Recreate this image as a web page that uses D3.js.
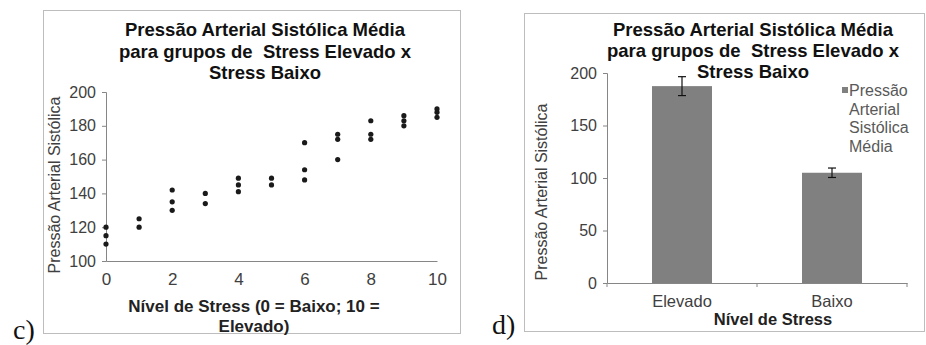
<!DOCTYPE html>
<html>
<head>
<meta charset="utf-8">
<script src="https://cdn.jsdelivr.net/npm/d3@7"></script>
<style>
  body { margin: 0; background: #fff; }
  svg { display: block; font-family: "Liberation Sans", Arial, sans-serif; }
  .tick text { fill: #404040; }
  text.title { white-space: pre; }
</style>
</head>
<body>
<div id="chart"></div>
<script>
// scatter data (panel c)
var stressLevels = [0, 0, 0, 1, 1, 2, 2, 2, 3, 3, 4, 4, 4, 5, 5, 6, 6, 6, 7, 7, 7, 8, 8, 8, 9, 9, 9, 10, 10, 10];
var pressures = [120, 115, 110, 125, 120, 142, 135, 130, 140, 134, 149, 145, 141, 149, 145, 170, 154, 148, 175, 172, 160, 183, 175, 172, 186, 183, 180, 190, 188, 185];
var scatterTicksY = [100, 120, 140, 160, 180, 200];
var scatterTicksX = [0, 2, 4, 6, 8, 10];

// bar data (panel d)
var groups = ["Elevado", "Baixo"];
var meanPressure = [187.5, 105];
var errorMargin = [9, 4.5];
var barTicksY = [0, 50, 100, 150, 200];

var titleLines = ["Pressão Arterial Sistólica Média", "para grupos de  Stress Elevado x", "Stress Baixo"];
var legendLines = ["Pressão", "Arterial", "Sistólica", "Média"];

var svg = d3.select("#chart").append("svg")
    .attr("width", 926)
    .attr("height", 345);

var axisColour = "#868686";

// ---------- panel c: scatter ----------
svg.append("rect")
    .attr("x", 43.5).attr("y", 10.5)
    .attr("width", 417).attr("height", 323)
    .attr("fill", "none").attr("stroke", "#bdbdbd");

var x = d3.scaleLinear().domain([0, 10]).range([106, 437]);
var y = d3.scaleLinear().domain([100, 200]).range([261, 92]);

var gC = svg.append("g");

gC.append("g")
    .attr("transform", "translate(0," + y(100) + ")")
    .call(d3.axisBottom(x).tickValues(scatterTicksX).tickSize(0).tickPadding(12))
    .call(function(g) {
        g.select(".domain").attr("stroke", axisColour);
        g.selectAll("text").attr("font-size", 17).attr("font-family", "Liberation Sans, Arial");
    });

gC.append("g")
    .attr("transform", "translate(" + x(0) + ",0)")
    .call(d3.axisLeft(y).tickValues(scatterTicksY).tickSize(4).tickPadding(6))
    .call(function(g) {
        g.select(".domain").attr("stroke", axisColour);
        g.selectAll(".tick line").attr("stroke", axisColour);
        g.selectAll("text").attr("font-size", 16).attr("font-family", "Liberation Sans, Arial");
    });

gC.selectAll("circle.dot")
    .data(stressLevels.map(function(s, i) { return {s: s, p: pressures[i]}; }))
    .enter()
    .append("circle")
    .attr("class", "dot")
    .attr("cx", function(d) { return x(d.s); })
    .attr("cy", function(d) { return y(d.p); })
    .attr("r", 2.6)
    .attr("fill", "#1a1a1a");

// titles keep the double space of the original
gC.selectAll("text.title")
    .data(titleLines)
    .enter()
    .append("text")
    .attr("class", "title")
    .attr("x", 265)
    .attr("y", function(d, i) { return 36 + i * 21.5; })
    .attr("text-anchor", "middle")
    .attr("font-size", 18.5)
    .attr("font-weight", "bold")
    .attr("fill", "#111")
    .text(function(d) { return d; });

gC.append("text")
    .attr("transform", "translate(60,185) rotate(-90)")
    .attr("text-anchor", "middle")
    .attr("font-size", 16)
    .attr("fill", "#404040")
    .text("Pressão Arterial Sistólica");

gC.selectAll("text.xtitle")
    .data(["Nível de Stress (0 = Baixo; 10 =", "Elevado)"])
    .enter()
    .append("text")
    .attr("class", "xtitle")
    .attr("x", 254)
    .attr("y", function(d, i) { return 312 + i * 19.5; })
    .attr("text-anchor", "middle")
    .attr("font-size", 17)
    .attr("font-weight", "bold")
    .attr("fill", "#222")
    .text(function(d) { return d; });

svg.append("text")
    .attr("x", 13).attr("y", 339)
    .attr("font-family", "Liberation Serif, Times New Roman, serif")
    .attr("font-size", 28)
    .attr("fill", "#111")
    .text("c)");

// ---------- panel d: bars ----------
svg.append("rect")
    .attr("x", 524.5).attr("y", 13.5)
    .attr("width", 400).attr("height", 318)
    .attr("fill", "none").attr("stroke", "#bdbdbd");

var xb = d3.scaleBand().domain(groups).range([607, 907]);
var yb = d3.scaleLinear().domain([0, 200]).range([283, 73]);
var barW = xb.bandwidth() * 0.4;

var gD = svg.append("g");

gD.append("g")
    .attr("transform", "translate(0," + yb(0) + ")")
    .call(d3.axisBottom(xb).tickSize(0).tickPadding(12))
    .call(function(g) {
        g.select(".domain").attr("stroke", axisColour);
        g.selectAll("text").attr("font-size", 16.5).attr("font-family", "Liberation Sans, Arial");
    });

// category separators on the x axis
gD.selectAll("line.sep")
    .data([xb.range()[0], xb(groups[1]), xb.range()[1]])
    .enter()
    .append("line")
    .attr("class", "sep")
    .attr("x1", function(d) { return d; })
    .attr("x2", function(d) { return d; })
    .attr("y1", yb(0)).attr("y2", yb(0) + 4)
    .attr("stroke", axisColour);

gD.append("g")
    .attr("transform", "translate(" + xb.range()[0] + ",0)")
    .call(d3.axisLeft(yb).tickValues(barTicksY).tickSize(4).tickPadding(6))
    .call(function(g) {
        g.select(".domain").attr("stroke", axisColour);
        g.selectAll(".tick line").attr("stroke", axisColour);
        g.selectAll("text").attr("font-size", 16).attr("font-family", "Liberation Sans, Arial");
    });

var barData = groups.map(function(g, i) { return {g: g, v: meanPressure[i], e: errorMargin[i]}; });

gD.selectAll("rect.bar")
    .data(barData)
    .enter()
    .append("rect")
    .attr("class", "bar")
    .attr("x", function(d) { return xb(d.g) + xb.bandwidth() / 2 - barW / 2; })
    .attr("y", function(d) { return yb(d.v); })
    .attr("width", barW)
    .attr("height", function(d) { return yb(0) - yb(d.v); })
    .attr("fill", "#808080");

var err = gD.selectAll("g.err")
    .data(barData)
    .enter()
    .append("g")
    .attr("class", "err")
    .attr("stroke", "#111")
    .attr("stroke-width", 1.2);

err.append("line")
    .attr("x1", function(d) { return xb(d.g) + xb.bandwidth() / 2; })
    .attr("x2", function(d) { return xb(d.g) + xb.bandwidth() / 2; })
    .attr("y1", function(d) { return yb(d.v + d.e); })
    .attr("y2", function(d) { return yb(d.v - d.e); });

err.selectAll("line.cap")
    .data(function(d) { return [d.v + d.e, d.v - d.e].map(function(v) { return {g: d.g, v: v}; }); })
    .enter()
    .append("line")
    .attr("class", "cap")
    .attr("x1", function(d) { return xb(d.g) + xb.bandwidth() / 2 - 4; })
    .attr("x2", function(d) { return xb(d.g) + xb.bandwidth() / 2 + 4; })
    .attr("y1", function(d) { return yb(d.v); })
    .attr("y2", function(d) { return yb(d.v); });

gD.selectAll("text.title")
    .data(titleLines)
    .enter()
    .append("text")
    .attr("class", "title")
    .attr("x", 753)
    .attr("y", function(d, i) { return 36 + i * 21; })
    .attr("text-anchor", "middle")
    .attr("font-size", 18.5)
    .attr("font-weight", "bold")
    .attr("fill", "#111")
    .text(function(d) { return d; });

gD.append("text")
    .attr("transform", "translate(547,192) rotate(-90)")
    .attr("text-anchor", "middle")
    .attr("font-size", 16)
    .attr("fill", "#404040")
    .text("Pressão Arterial Sistólica");

gD.append("text")
    .attr("x", 773).attr("y", 325)
    .attr("text-anchor", "middle")
    .attr("font-size", 16.5)
    .attr("font-weight", "bold")
    .attr("fill", "#222")
    .text("Nível de Stress");

// legend
gD.append("rect")
    .attr("x", 842).attr("y", 87)
    .attr("width", 6).attr("height", 6)
    .attr("fill", "#808080");

gD.selectAll("text.legend")
    .data(legendLines)
    .enter()
    .append("text")
    .attr("class", "legend")
    .attr("x", 849)
    .attr("y", function(d, i) { return 96 + i * 18.7; })
    .attr("font-size", 16)
    .attr("fill", "#595959")
    .text(function(d) { return d; });

svg.append("text")
    .attr("x", 492).attr("y", 334)
    .attr("font-family", "Liberation Serif, Times New Roman, serif")
    .attr("font-size", 28)
    .attr("fill", "#111")
    .text("d)");
</script>
</body>
</html>
